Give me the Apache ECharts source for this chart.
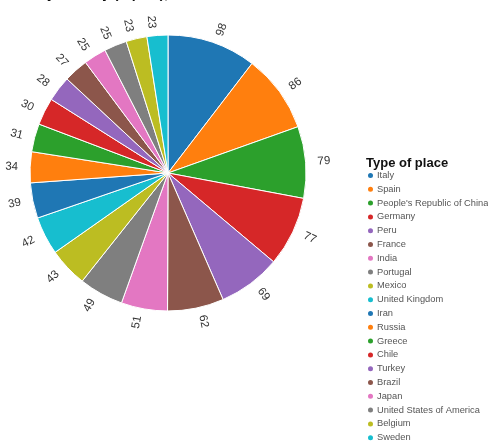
<!DOCTYPE html>
<html><head><meta charset="utf-8">
<script src="https://cdn.jsdelivr.net/npm/echarts@6/dist/echarts.min.js"></script>
<style>html,body{margin:0;padding:0;background:#fff}#c{width:488px;height:441px}</style>
</head><body><div id="c"></div>
<script>
const categories = ["Italy","Spain","People's Republic of China","Germany","Peru","France","India","Portugal","Mexico","United Kingdom","Iran","Russia","Greece","Chile","Turkey","Brazil","Japan","United States of America","Belgium","Sweden"];
const values = [98,86,79,77,69,62,51,49,43,42,39,34,31,30,28,27,25,25,23,23];
const colors = ['#1f77b4','#ff7f0e','#2ca02c','#d62728','#9467bd','#8c564b','#e377c2','#7f7f7f','#bcbd22','#17becf'];
const chart = echarts.init(document.getElementById('c'), null, {renderer:'canvas'});
chart.setOption({
  animation:false,
  color: colors,
  title: [{
    text: 'Sites by country (top 20), 2020',
    left: -4, top: -17.5,
    textStyle:{fontFamily:'Liberation Sans', fontSize:14, fontWeight:'bold', color:'#111'}
  },{
    text: 'Type of place',
    left: 361, top: 152,
    textStyle:{fontFamily:'Liberation Sans', fontSize:13, fontWeight:'bold', color:'#111'}
  }],
  legend: {
    orient:'vertical', left: 366, top: 171, padding:0, height: 290,
    icon:'circle', itemWidth:7, itemHeight:7, itemGap:4.8,
    textStyle:{fontFamily:'Liberation Sans', fontSize:9.3, color:'#555', padding:[0,0,0,-2]},
    data: categories
  },
  series: [{
    type:'pie',
    center:[168,173], radius:[0,138],
    startAngle:90, clockwise:true,
    avoidLabelOverlap:false,
    itemStyle:{borderColor:'#fff', borderWidth:1},
    label:{show:true, position:'outside', rotate:'radial', formatter:'{c}',
      fontFamily:'Liberation Sans', fontSize:11.5, color:'#333'},
    labelLine:{show:false, length:7, length2:0},
    data: categories.map((n,i)=>({name:n, value:values[i]}))
  }]
});
</script></body></html>
